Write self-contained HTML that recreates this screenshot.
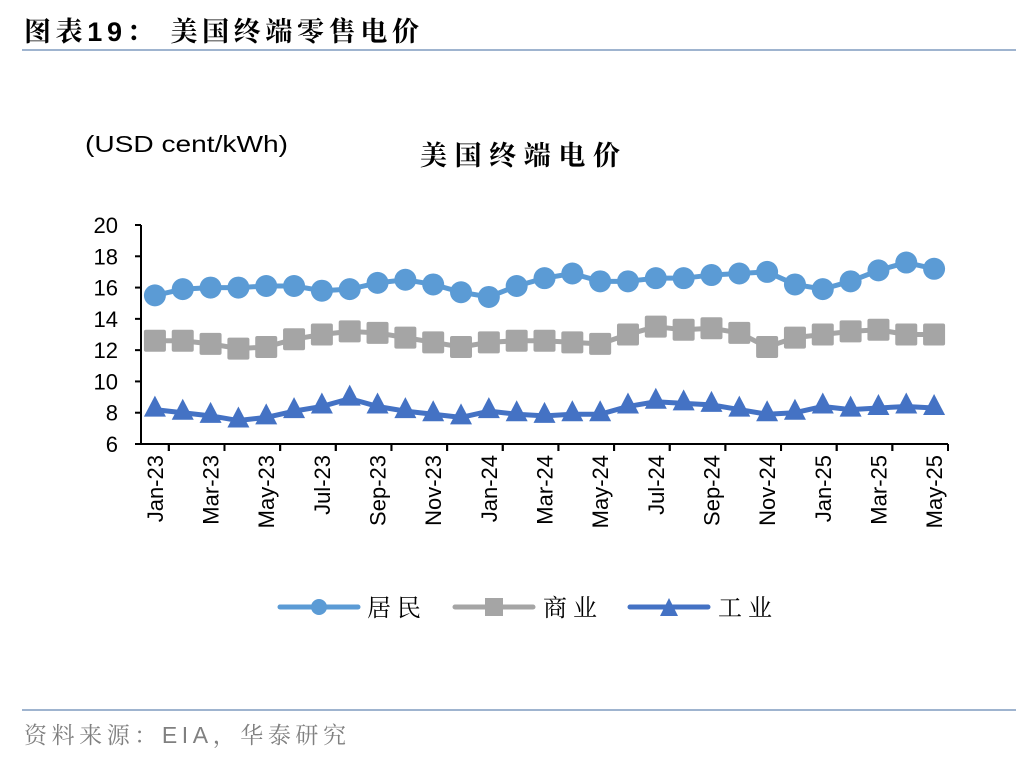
<!DOCTYPE html>
<html><head><meta charset="utf-8">
<style>
body{margin:0;background:#fff;width:1036px;height:760px;overflow:hidden;}
svg{display:block;}
</style></head>
<body>
<svg id="chart" width="1036" height="760" xmlns="http://www.w3.org/2000/svg">
<text x="24" y="41" font-family="'Liberation Sans','Noto Serif CJK SC',serif" font-weight="bold" font-size="27" fill="#000" textLength="395" lengthAdjust="spacing">图表19：  美国终端零售电价</text>
<line x1="22" y1="50" x2="1016" y2="50" stroke="#9fb4cf" stroke-width="2"/>
<text x="85" y="152" font-family="'Liberation Sans',sans-serif" font-size="23" fill="#000" textLength="203" lengthAdjust="spacingAndGlyphs">(USD cent/kWh)</text>
<text x="420" y="165" font-family="'Noto Serif CJK SC',serif" font-weight="bold" font-size="27" fill="#000" textLength="200" lengthAdjust="spacing">美国终端电价</text>
<g id="axes"></g>
<g id="series"></g>
<g id="legend">
 <g>
  <line x1="280" y1="607" x2="358" y2="607" stroke="#5b9bd5" stroke-width="5" stroke-linecap="round"/>
  <circle cx="319" cy="607" r="8" fill="#5b9bd5"/>
  <text x="367" y="616" font-family="'Noto Serif CJK SC',serif" font-size="24" textLength="54" lengthAdjust="spacing">居民</text>
 </g>
 <g>
  <line x1="455" y1="607" x2="533" y2="607" stroke="#a5a5a5" stroke-width="5" stroke-linecap="round"/>
  <rect x="485" y="598" width="18" height="18" fill="#a5a5a5"/>
  <text x="543" y="616" font-family="'Noto Serif CJK SC',serif" font-size="24" textLength="54" lengthAdjust="spacing">商业</text>
 </g>
 <g>
  <line x1="630" y1="607" x2="708" y2="607" stroke="#4472c4" stroke-width="5" stroke-linecap="round"/>
  <polygon points="669,598 678,616 660,616" fill="#4472c4"/>
  <text x="718" y="616" font-family="'Noto Serif CJK SC',serif" font-size="24" textLength="54" lengthAdjust="spacing">工业</text>
 </g>
</g>
<line x1="22" y1="710" x2="1016" y2="710" stroke="#9fb4cf" stroke-width="2"/>
<text x="24" y="743" font-family="'Liberation Sans','Noto Serif CJK SC',serif" font-size="23" fill="#808080" textLength="322" lengthAdjust="spacing">资料来源：EIA，华泰研究</text>
</svg>
<script>
const months=["Jan-23","Feb-23","Mar-23","Apr-23","May-23","Jun-23","Jul-23","Aug-23","Sep-23","Oct-23","Nov-23","Dec-23","Jan-24","Feb-24","Mar-24","Apr-24","May-24","Jun-24","Jul-24","Aug-24","Sep-24","Oct-24","Nov-24","Dec-24","Jan-25","Feb-25","Mar-25","Apr-25","May-25"];
const residential=[15.5,15.9,16.0,16.0,16.1,16.1,15.8,15.9,16.3,16.5,16.2,15.7,15.4,16.1,16.6,16.9,16.4,16.4,16.6,16.6,16.8,16.9,17.0,16.2,15.9,16.4,17.1,17.6,17.2];
const commercial=[12.6,12.6,12.4,12.1,12.2,12.7,13.0,13.2,13.1,12.8,12.5,12.2,12.5,12.6,12.6,12.5,12.4,13.0,13.5,13.3,13.4,13.1,12.2,12.8,13.0,13.2,13.3,13.0,13.0];
const industrial=[8.2,8.0,7.8,7.5,7.7,8.1,8.4,8.9,8.4,8.1,7.9,7.7,8.1,7.9,7.8,7.9,7.9,8.4,8.7,8.6,8.5,8.2,7.9,8.0,8.4,8.2,8.3,8.4,8.3];
const yTicks=[6,8,10,12,14,16,18,20];

const NS="http://www.w3.org/2000/svg";
const X0=141,X1=948,Y0=444,Y1=225,YMIN=6,YMAX=20;
const step=(X1-X0)/months.length;
function xs(i){return X0+step*(i+0.5);}
function ys(v){return Y0-(v-YMIN)/(YMAX-YMIN)*(Y0-Y1);}
function mk(tag,attrs,parent){const e=document.createElementNS(NS,tag);for(const k in attrs)e.setAttribute(k,attrs[k]);parent.appendChild(e);return e;}
const axes=document.getElementById('axes');
let e=mk('line',{x1:X0,y1:Y1,x2:X0,y2:Y0,stroke:'#000','stroke-width':2},axes);


e=mk('line',{x1:X0,y1:Y0,x2:X1,y2:Y0,stroke:'#000','stroke-width':2},axes);


yTicks.forEach(t=>{
  const y=ys(t);
  mk('line',{x1:X0-6,y1:y,x2:X0,y2:y,stroke:'#000','stroke-width':2},axes);
  const tx=mk('text',{x:X0-23,y:y+8,'text-anchor':'end','font-family':"'Liberation Sans',sans-serif",'font-size':22},axes);
  tx.textContent=t;
  
  
});
months.forEach((m,i)=>{
  if(i%2===1){const xb=X0+step*i;mk('line',{x1:xb,y1:Y0,x2:xb,y2:Y0+7,stroke:'#000','stroke-width':2},axes);}
  if(i%2===0){
    const xb=X0+step*(i+1);
    if(i+1<months.length) mk('line',{x1:xb,y1:Y0,x2:xb,y2:Y0+7,stroke:'#000','stroke-width':2},axes);
    const x=xs(i)+8,y=Y0+11;
    const tx=mk('text',{x:x,y:y,transform:`rotate(-90 ${x} ${y})`,'text-anchor':'end','font-family':"'Liberation Sans',sans-serif",'font-size':22},axes);
    tx.textContent=m;
    
    
  }
});
mk('line',{x1:X1,y1:Y0,x2:X1,y2:Y0+7,stroke:'#000','stroke-width':2},axes);
const sg=document.getElementById('series');
function drawSeries(vals,color,marker,name){
  const g=mk('g',{},sg);
  
  
  const pl=mk('polyline',{points:vals.map((v,i)=>xs(i)+','+ys(v)).join(' '),fill:'none',stroke:color,'stroke-width':5,'stroke-linejoin':'round'},g);
  
  
  vals.forEach((v,i)=>{
    const x=xs(i),y=ys(v);let p;
    if(marker==='circle')p=mk('circle',{cx:x,cy:y,r:11,fill:color},g);
    else if(marker==='square')p=mk('rect',{x:x-11,y:y-11,width:22,height:22,rx:2,fill:color},g);
    else p=mk('polygon',{points:`${x},${y-14} ${x+11},${y+7} ${x-11},${y+7}`,fill:color},g);
    
    
  });
}
drawSeries(residential,'#5b9bd5','circle','residential');
drawSeries(commercial,'#a5a5a5','square','commercial');
drawSeries(industrial,'#4472c4','triangle','industrial');
</script>
</body></html>
